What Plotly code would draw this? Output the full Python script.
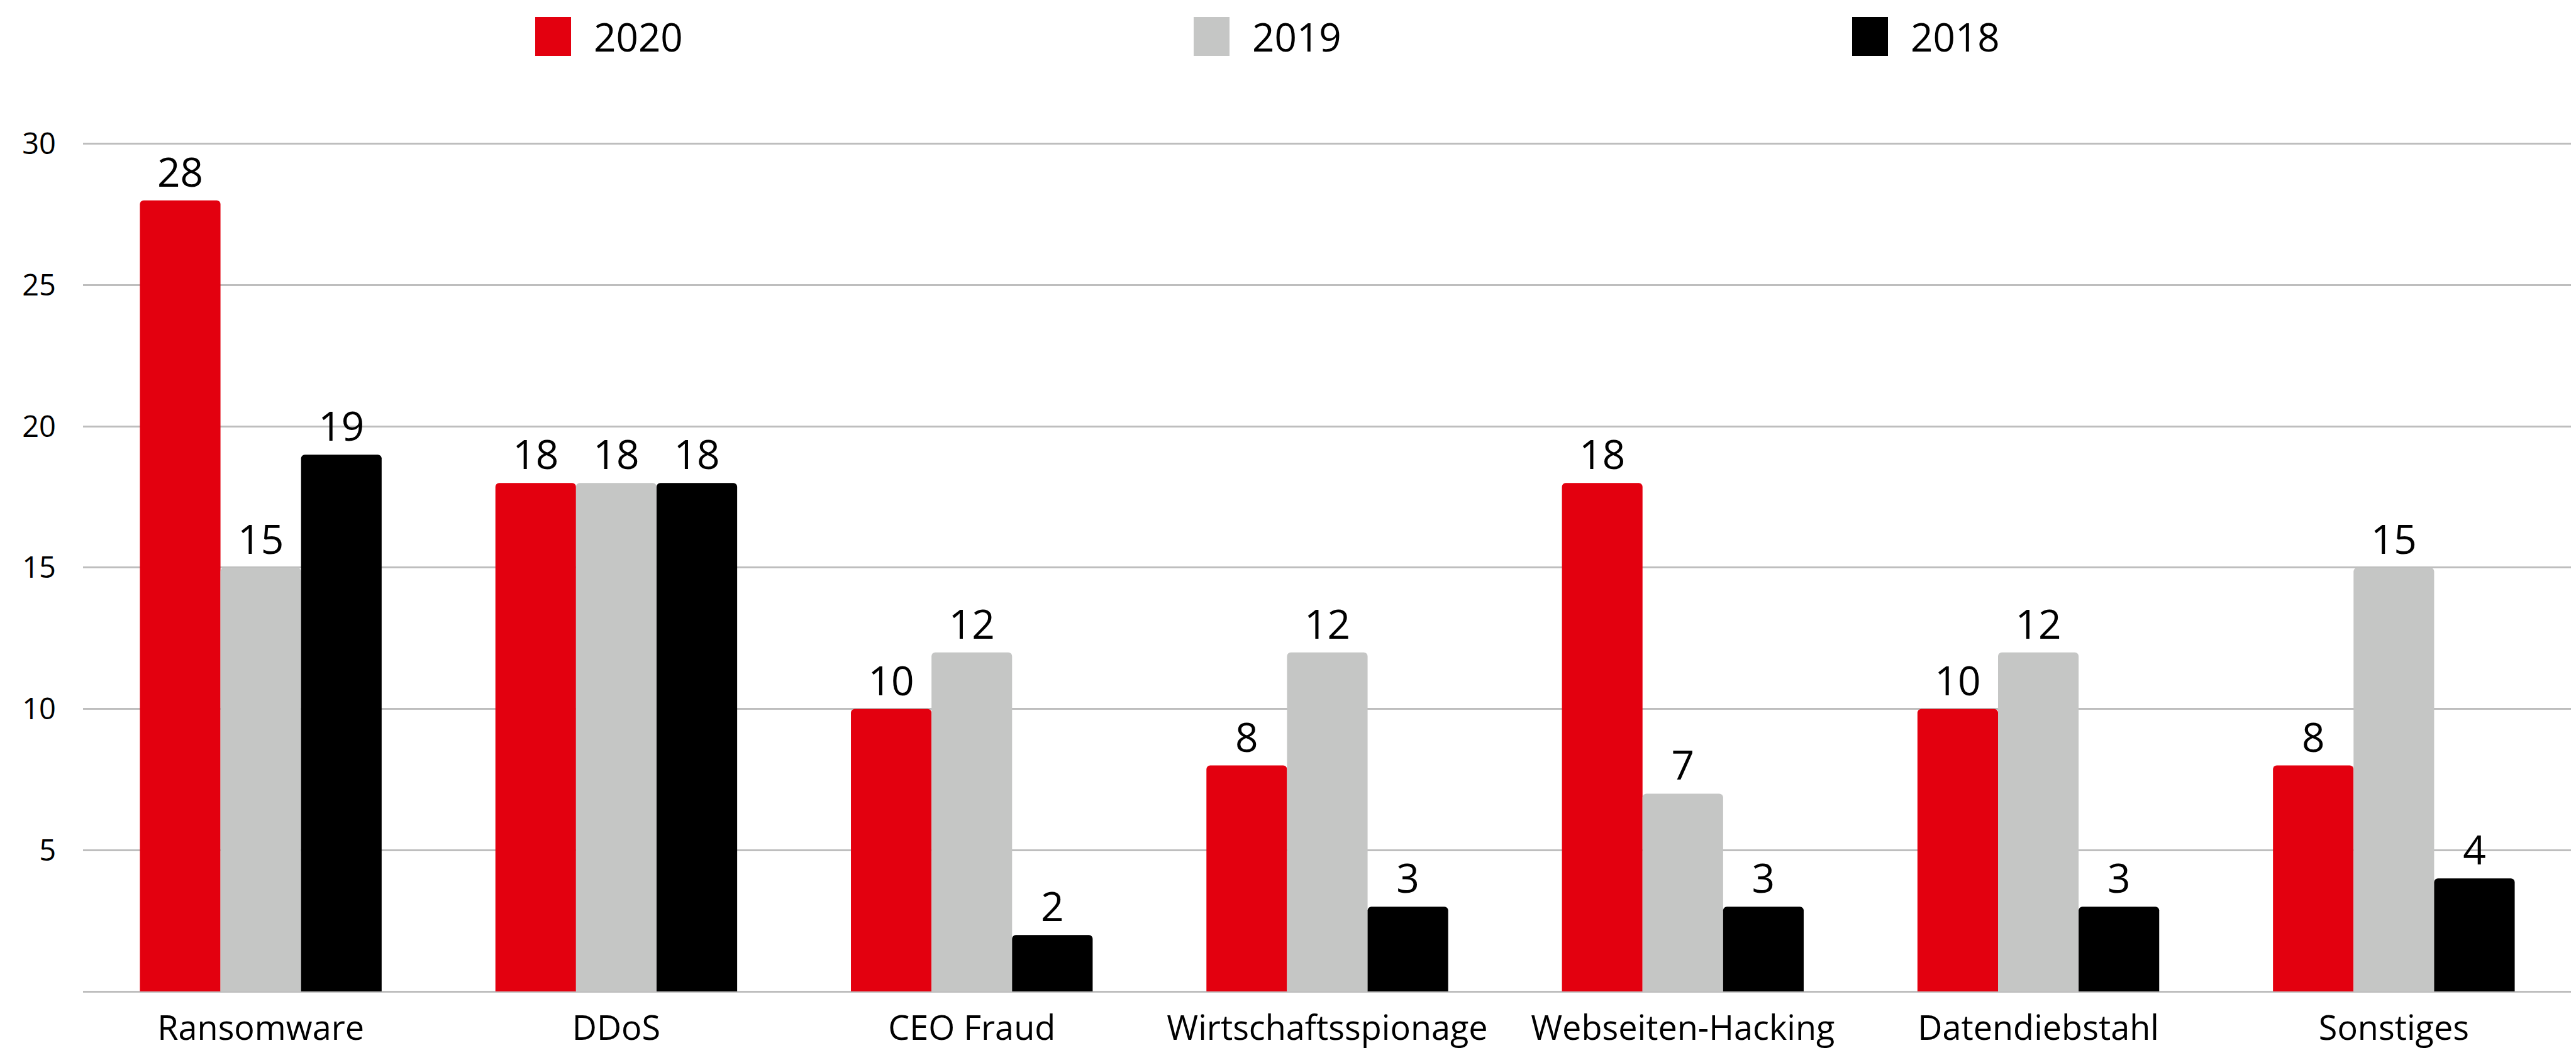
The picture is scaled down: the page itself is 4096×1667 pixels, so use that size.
import plotly.graph_objects as go

categories = ["Ransomware", "DDoS", "CEO Fraud", "Wirtschaftsspionage",
              "Webseiten-Hacking", "Datendiebstahl", "Sonstiges"]
series_names = ["2020", "2019", "2018"]
values_2020 = [28, 18, 10, 8, 18, 10, 8]
values_2019 = [15, 18, 12, 12, 7, 12, 15]
values_2018 = [19, 18, 2, 3, 3, 3, 4]
y_tickvals = [5, 10, 15, 20, 25, 30]

colors = ["#E3000F", "#C5C6C5", "#000000"]
FONT = "Open Sans"

W_PX, H_PX = 4096, 1667
L, R, T, B = 124, 15, 131, 98
plot_w = W_PX - L - R
plot_h = H_PX - T - B

fig = go.Figure()
for name, vals, col in zip(series_names, [values_2020, values_2019, values_2018], colors):
    fig.add_trace(go.Bar(
        x=categories, y=vals, name=name,
        marker=dict(color=col, line=dict(width=0), cornerradius=6),
        text=[str(v) for v in vals], textposition="outside",
        textfont=dict(family=FONT, size=64, color="#000000"),
        cliponaxis=False, showlegend=False,
    ))

# Custom legend (large square swatches)
def px_to_paper_x(px):
    return (px - L) / plot_w

def px_to_paper_y(py):
    return (H_PX - B - py) / plot_h

legend_x0 = 843
legend_step = 1047
sw_w, sw_top, sw_bot = 57, 19, 81
for i, (name, col) in enumerate(zip(series_names, colors)):
    x0 = legend_x0 + i * legend_step
    fig.add_shape(type="rect", xref="paper", yref="paper",
                  x0=px_to_paper_x(x0), x1=px_to_paper_x(x0 + sw_w),
                  y0=px_to_paper_y(sw_bot), y1=px_to_paper_y(sw_top),
                  fillcolor=col, line=dict(width=0))
    fig.add_annotation(xref="paper", yref="paper",
                       x=px_to_paper_x(x0 + sw_w + 34), y=px_to_paper_y((sw_top + sw_bot) / 2),
                       text=name, showarrow=False, xanchor="left", yanchor="middle",
                       font=dict(family=FONT, size=62, color="#000000"))

fig.update_layout(
    width=W_PX, height=H_PX,
    margin=dict(l=L, r=R, t=T, b=B, autoexpand=False),
    paper_bgcolor="white", plot_bgcolor="white",
    barmode="group", bargap=0.32, bargroupgap=0,
    showlegend=False,
    font=dict(family=FONT, color="#000000"),
)
fig.update_xaxes(
    showgrid=False, showline=False, zeroline=False,
    tickfont=dict(family=FONT, size=54, color="#000000"),
    ticks="", ticklabelstandoff=22,
)
fig.update_yaxes(
    range=[0, 32], tickvals=y_tickvals,
    showgrid=True, gridcolor="#BEBEBE", gridwidth=3,
    zeroline=True, zerolinecolor="#BEBEBE", zerolinewidth=3,
    showline=False, ticks="",
    tickfont=dict(family=FONT, size=47, color="#000000"),
    ticklabelstandoff=42,
)

fig.write_html("out.html")
